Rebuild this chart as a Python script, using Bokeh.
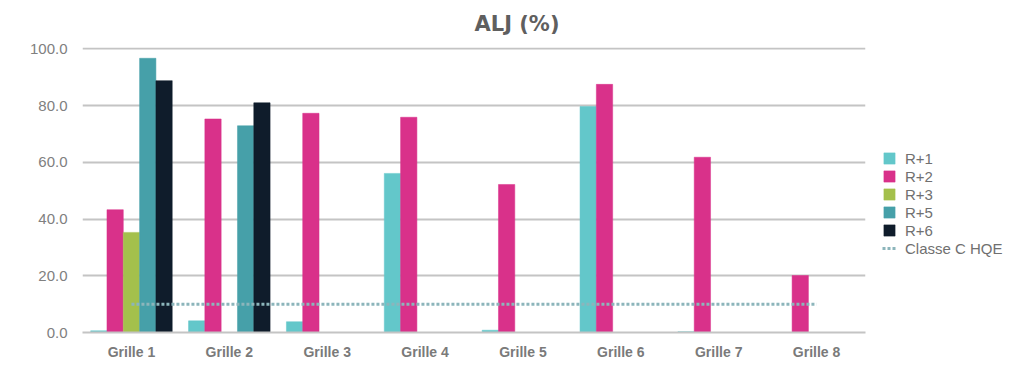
from bokeh.plotting import figure
from bokeh.models import FactorRange, Range1d, FixedTicker, NumeralTickFormatter, ColumnDataSource
from bokeh.transform import dodge
from bokeh.embed import file_html
from bokeh.resources import INLINE

categories = ["Grille 1", "Grille 2", "Grille 3", "Grille 4", "Grille 5", "Grille 6", "Grille 7", "Grille 8"]
r1 = [0.6, 4.1, 3.8, 56.1, 0.8, 79.7, 0.3, 0.0]
r2 = [43.3, 75.3, 77.3, 75.9, 52.2, 87.5, 61.8, 20.1]
r3 = [35.3, 0, 0, 0, 0, 0, 0, 0]
r5 = [96.7, 72.9, 0, 0, 0, 0, 0, 0]
r6 = [88.8, 81.0, 0, 0, 0, 0, 0, 0]
hqe_x = ["Grille 1", "Grille 8"]
hqe_y = [10, 10]
series_names = ["R+1", "R+2", "R+3", "R+5", "R+6"]
colors = ["#63c7ca", "#d9318a", "#a4c04c", "#46a0a9", "#0f1c2b"]
y_ticks = [0, 20, 40, 60, 80, 100]

src = ColumnDataSource(dict(x=categories, r1=r1, r2=r2, r3=r3, r5=r5, r6=r6))

p = figure(x_range=FactorRange(factors=categories, range_padding=0),
           y_range=Range1d(0, 100.5),
           frame_width=783, frame_height=285,
           min_border_left=82, min_border_right=10, min_border_top=47, min_border_bottom=36,
           title="ALJ (%)",
           output_backend="svg", toolbar_location=None)
p.outline_line_color = None
p.background_fill_color = "white"

bw = 1.0 / 6
offsets = [-2 * bw, -bw, 0, bw, 2 * bw]
for key, name, col, off in zip(["r1", "r2", "r3", "r5", "r6"], series_names, colors, offsets):
    p.vbar(x=dodge("x", off, range=p.x_range), top=key, width=bw, source=src,
           fill_color=col, line_color=col, line_width=0.5, legend_label=name)

p.line(x=hqe_x, y=hqe_y, line_color="#8cb5bb", line_width=3, line_dash="3 2",
       legend_label="Classe C HQE")

# axes
p.yaxis.ticker = FixedTicker(ticks=y_ticks)
p.yaxis.formatter = NumeralTickFormatter(format="0.0")
p.yaxis.axis_line_color = None
p.yaxis.major_tick_line_color = None
p.yaxis.minor_tick_line_color = None
p.yaxis.major_label_text_font = "Liberation Sans"
p.yaxis.major_label_text_font_size = "15px"
p.yaxis.major_label_text_color = "#808080"
p.yaxis.major_label_standoff = 9

p.xaxis.axis_line_color = "#c4c4c4"
p.xaxis.axis_line_width = 2
p.xaxis.major_tick_line_color = None
p.xaxis.minor_tick_line_color = None
p.xaxis.major_label_text_font = "Liberation Sans"
p.xaxis.major_label_text_font_style = "bold"
p.xaxis.major_label_text_font_size = "14px"
p.xaxis.major_label_text_color = "#7a7a7a"
p.xaxis.major_label_standoff = 5

p.xgrid.grid_line_color = None
p.ygrid.grid_line_color = "#c4c4c4"
p.ygrid.grid_line_width = 2
p.ygrid.ticker = FixedTicker(ticks=y_ticks)

# legend moved to right panel
lg = p.legend[0]
p.center.remove(lg)
p.add_layout(lg, "right")
lg.location = (17, 75)
lg.border_line_color = None
lg.background_fill_alpha = 0
lg.label_text_font = "Liberation Sans"
lg.label_text_font_size = "15px"
lg.label_text_color = "#707070"
lg.label_height = 18
lg.glyph_height = 14
lg.glyph_width = 14
lg.spacing = 0
lg.padding = 0
lg.margin = 0
lg.label_standoff = 9

# title
p.title.align = "left"
p.title.offset = 392
p.title.vertical_align = "top"
p.title.text_font = "DejaVu Sans"
p.title.text_font_style = "bold"
p.title.text_font_size = "21px"
p.title.text_color = "#5f5f5f"
p.title.standoff = 20

open("out.html", "w").write(file_html(p, INLINE))
